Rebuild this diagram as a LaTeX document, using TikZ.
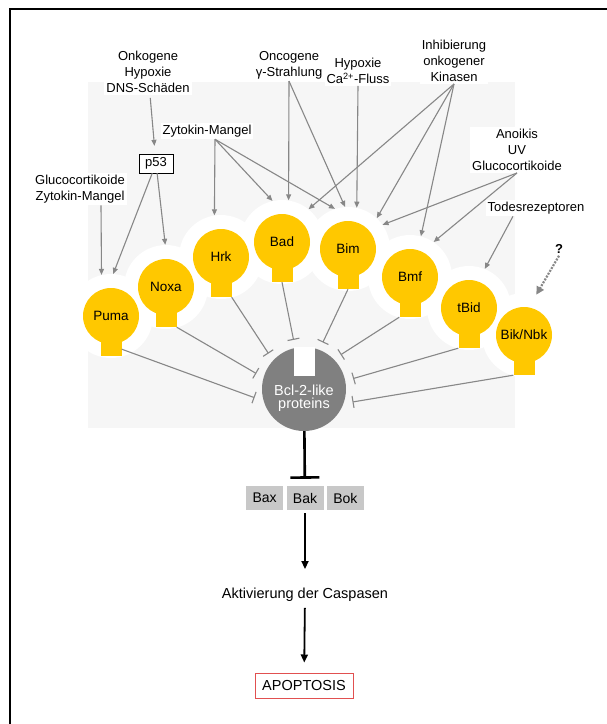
\documentclass[tikz,border=0pt]{standalone}
\usepackage{fontspec}
\setmainfont{Liberation Sans}
\usetikzlibrary{arrows.meta,positioning}
\definecolor{bhyellow}{RGB}{255,200,0}
\definecolor{bclgray}{RGB}{128,128,128}
\definecolor{arrgray}{RGB}{135,135,135}
\definecolor{boxgray}{RGB}{200,200,200}
\definecolor{bggray}{RGB}{246,246,246}
\definecolor{apored}{RGB}{225,80,80}
\begin{document}
\begin{tikzpicture}[x=1pt, y=-1pt,
	prot/.style = {circle, fill=bhyellow, minimum size=56pt, inner sep=0pt, font=\fontsize{13.5}{16}\selectfont},
	stalk/.style = {fill=bhyellow, minimum width=21pt, minimum height=26pt, inner sep=0pt},
	halo/.style = {circle, fill=white, minimum size=84pt, inner sep=0pt},
	lbl/.style = {fill=white, align=center, inner sep=2pt, font=\fontsize{13}{16}\selectfont},
	act/.style = {-{Triangle[length=6pt,width=5pt]}, draw=arrgray, line width=1.1pt},
	inh/.style = {-{Bar[width=12pt]}, draw=arrgray, line width=1.1pt},
	bbox/.style = {fill=boxgray, minimum width=37pt, minimum height=24pt, inner sep=0pt, font=\fontsize{14}{16}\selectfont}]
		\useasboundingbox (0,0) rectangle (607,724);
		\fill[bggray] (88,82) rectangle (515,428);
		\draw[line width=2pt] (10,724) -- (10,9) -- (607,9);

		\node[lbl] (onk) at (148,72) {Onkogene\\Hypoxie\\DNS-Schäden};
		\node[lbl, draw, line width=0.6pt, inner xsep=6pt, inner ysep=3.5pt] (p53) at (156,163.5) {p53};
		\node[lbl] (gluc) at (80,189) {Glucocortikoide\\Zytokin-Mangel};
		\node[lbl] (zyt) at (207,131) {Zytokin-Mangel};
		\node[lbl] (onc) at (289,65) {Oncogene\\γ-Strahlung};
		\node[lbl] (hyp) at (358,71) {Hypoxie\\Ca\textsuperscript{2+}-Fluss};
		\node[lbl] (kin) at (454,61) {Inhibierung\\onkogener\\Kinasen};
		\node[lbl] (ano) at (517,150) {Anoikis\\UV\\Glucocortikoide};
		\node[lbl] (tod) at (536,208) {Todesrezeptoren};
		\node[lbl, font=\fontsize{13}{16}\selectfont\bfseries] (q) at (559,249) {?};

		\node[halo] (pumah) at (111,316) {};
		\node[halo] (noxah) at (166,287) {};
		\node[halo] (hrkh) at (221,257) {};
		\node[halo] (badh) at (282,242) {};
		\node[halo] (bimh) at (348,249) {};
		\node[halo] (bmfh) at (410,277) {};
		\node[halo] (tbidh) at (469,308) {};
		\node[halo] (bikh) at (524,335) {};

		\node[stalk] (pumas) at (111,343) {};
		\node[stalk] (noxas) at (166,314) {};
		\node[stalk] (hrks) at (221,284) {};
		\node[stalk] (bads) at (282,269) {};
		\node[stalk] (bims) at (348,276) {};
		\node[stalk] (bmfs) at (410,304) {};
		\node[stalk] (tbids) at (469,335) {};
		\node[stalk] (biks) at (524,362) {};

		\node[prot] (puma) at (111,316) {Puma};
		\node[prot] (noxa) at (166,287) {Noxa};
		\node[prot] (hrk) at (221,257) {Hrk};
		\node[prot] (bad) at (282,242) {Bad};
		\node[prot] (bim) at (348,249) {Bim};
		\node[prot] (bmf) at (410,277) {Bmf};
		\node[prot] (tbid) at (469,308) {tBid};
		\node[prot] (bik) at (524,335) {Bik/Nbk};

		\node[circle, fill=bclgray, minimum size=84pt, inner sep=0pt] (bcl) at (304,389) {};
		\node[fill=white, minimum width=21pt, minimum height=29pt, inner sep=0pt] (notch) at (304,361.5) {};
		\node[circle, minimum size=100pt, inner sep=0pt] (ring) at (304,389) {};
		\node[align=center, text=white, inner sep=0pt, font=\fontsize{14.5}{13.5}\selectfont] (bcltxt) at (304,398) {Bcl-2-like\\proteins};

		\draw[act, shorten <=3pt, shorten >=8pt] (onk) -- (p53);
		\draw[act] ([xshift=21pt]gluc.south) -- (pumah.103);
		\draw[act] (p53) -- (pumah.87);
		\draw[act] (p53) -- (noxah.91);
		\draw[act] ([xshift=8pt]zyt.south) -- (hrkh.99);
		\draw[act] ([xshift=8pt]zyt.south) -- (badh.103);
		\draw[act] ([xshift=8pt]zyt.south) -- (bimh.108);
		\draw[act] (onc.south) -- (badh.81);
		\draw[act] (onc.south) -- (bimh.94);
		\draw[act] (hyp.south) -- (bimh.78);
		\draw[act] (kin.south) -- (badh.51);
		\draw[act] (kin.south) -- (bimh.47);
		\draw[act] (kin.south) -- (bmfh.75);
		\draw[act] (ano.south) -- (bimh.35);
		\draw[act] (ano.south) -- (bmfh.56);
		\draw[act] ([xshift=-23pt]tod.south) -- (tbidh.68);
		\draw[act, line width=2.2pt, dash pattern=on 2pt off 1.3pt, -{Triangle[length=8pt,width=8pt]}] (q.south) -- (bikh.73);

		\draw[inh] (pumas.-30) -- (ring.190);
		\draw[inh] (noxas.south east) -- (ring.162);
		\draw[inh] (hrks.south east) -- (ring.135);
		\draw[inh] (bads.south) -- (ring.102);
		\draw[inh] (bims.south) -- (ring.68);
		\draw[inh] (bmfs.south west) -- (ring.43);
		\draw[inh] (tbids.south west) -- (ring.12);
		\draw[inh] (biks.south west) -- (ring.-15);

		\node[bbox] (bak) at (305,498) {Bak};
		\node[bbox] (bax) [left=3pt of bak] {Bax};
		\node[bbox] (bok) [right=3pt of bak] {Bok};
		\node[inner sep=0pt, font=\fontsize{14.5}{16}\selectfont] (akt) at (305,595) {Aktivierung der Caspasen};
		\node[draw=apored, line width=1pt, minimum width=98pt, minimum height=25pt, inner sep=0pt, font=\fontsize{14.5}{16}\selectfont] (apo) at (304,685.5) {APOPTOSIS};

		\draw[line width=2.6pt, -{Bar[width=29pt]}, shorten >=7pt] (bcl) -- (bak);
		\draw[line width=1.8pt, -{Triangle[length=8pt,width=7pt]}, shorten <=3pt, shorten >=19pt] (bak) -- (akt);
		\draw[line width=1.8pt, -{Triangle[length=8pt,width=7pt]}, shorten <=6pt, shorten >=10pt] (akt) -- (apo);

	\end{tikzpicture}
\end{document}
